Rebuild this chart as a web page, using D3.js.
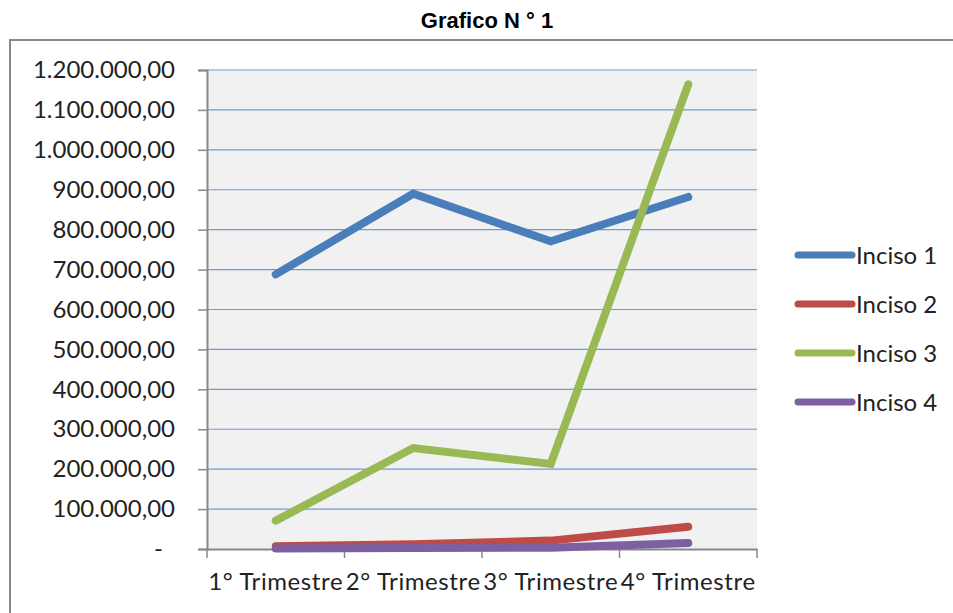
<!DOCTYPE html>
<html>
<head>
<meta charset="utf-8">
<script src="https://cdn.jsdelivr.net/npm/d3@7"></script>
<style>
  body { margin: 0; background: #fff; }
  svg { display: block; }
</style>
</head>
<body>
<svg width="953" height="613"></svg>
<script>
// data
const trimestres = ["1° Trimestre", "2° Trimestre", "3° Trimestre", "4° Trimestre"];
const inciso1 = [688000, 890000, 771000, 882000];
const inciso2 = [7000, 12000, 21000, 56000];
const inciso3 = [71000, 253000, 213000, 1164000];
const inciso4 = [1500, 2500, 3000, 15000];
const seriesNames = ["Inciso 1", "Inciso 2", "Inciso 3", "Inciso 4"];
const seriesColors = ["#4a7ebb", "#be4b48", "#98b954", "#7d60a0"];
const yTicks = [0, 100000, 200000, 300000, 400000, 500000, 600000, 700000, 800000, 900000, 1000000, 1100000, 1200000];

const series = [inciso1, inciso2, inciso3, inciso4].map((vals, i) => ({
    name: seriesNames[i], color: seriesColors[i], values: vals
}));

const svg = d3.select("svg");
const font = "Lato, 'Open Sans', sans-serif";

// outer frame
svg.append("rect")
    .attr("x", 10).attr("y", 40)
    .attr("width", 980).attr("height", 620)
    .attr("fill", "none")
    .attr("stroke", "#888")
    .attr("stroke-width", 2);

// title
svg.append("text")
    .attr("x", 487).attr("y", 28)
    .attr("text-anchor", "middle")
    .attr("font-family", "Arial, 'Liberation Sans', sans-serif")
    .attr("font-weight", "bold")
    .attr("font-size", "22px")
    .text("Grafico N ° 1");

const plotLeft = 207, plotRight = 757, plotTop = 70, plotBottom = 549;

const x = d3.scaleBand().domain(trimestres).range([plotLeft, plotRight]);
const y = d3.scaleLinear().domain([0, 1200000]).range([plotBottom, plotTop]);

// plot background
svg.append("rect")
    .attr("x", plotLeft).attr("y", plotTop)
    .attr("width", plotRight - plotLeft).attr("height", plotBottom - plotTop)
    .attr("fill", "#f1f1f1");

// gridlines
svg.append("g")
    .selectAll("line")
    .data(yTicks.filter(d => d > 0))
    .enter().append("line")
    .attr("x1", plotLeft).attr("x2", plotRight)
    .attr("y1", d => y(d)).attr("y2", d => y(d))
    .attr("stroke", "#6f9bd6")
    .attr("stroke-width", 1.2);

// y axis
const fmt = d3.formatLocale({decimal: ",", thousands: ".", grouping: [3], currency: ["", ""]}).format(",.2f");
const yAxis = svg.append("g")
    .attr("transform", "translate(" + plotLeft + ",0)")
    .call(d3.axisLeft(y).tickValues(yTicks).tickSize(9).tickPadding(23)
        .tickFormat(d => d === 0 ? "-" : fmt(d)));
yAxis.select(".domain").attr("stroke", "#888").attr("stroke-width", 2);
yAxis.selectAll(".tick line").attr("stroke", "#888").attr("stroke-width", 1.5);
yAxis.selectAll(".tick text")
    .attr("font-family", font)
    .attr("font-size", "24px")
    .attr("fill", "#222")
    .filter(d => d === 0).attr("dx", "-12");

// x axis
const xAxis = svg.append("g")
    .attr("transform", "translate(0," + plotBottom + ")")
    .call(d3.axisBottom(x).tickSize(0).tickPadding(24));
xAxis.select(".domain").attr("stroke", "#888").attr("stroke-width", 2);
xAxis.selectAll(".tick text")
    .attr("font-family", font)
    .attr("font-size", "24px")
    .attr("letter-spacing", "0.6px")
    .attr("fill", "#222");
xAxis.append("g").selectAll("line")
    .data(trimestres.map(t => x(t)).concat([plotRight]))
    .enter().append("line")
    .attr("x1", d => d).attr("x2", d => d)
    .attr("y1", 0).attr("y2", 9)
    .attr("stroke", "#888").attr("stroke-width", 1.5);

// lines
const line = d3.line()
    .x((d, i) => x(trimestres[i]) + x.bandwidth() / 2)
    .y(d => y(d));

svg.append("g").selectAll("path")
    .data(series)
    .enter().append("path")
    .attr("d", d => line(d.values))
    .attr("fill", "none")
    .attr("stroke", d => d.color)
    .attr("stroke-width", 8)
    .attr("stroke-linecap", "round")
    .attr("stroke-linejoin", "miter");

// legend
const legend = svg.append("g").selectAll("g")
    .data(series)
    .enter().append("g")
    .attr("transform", (d, i) => "translate(0," + (255 + i * 49) + ")");
legend.append("line")
    .attr("x1", 798).attr("x2", 852)
    .attr("stroke", d => d.color)
    .attr("stroke-width", 7)
    .attr("stroke-linecap", "round");
legend.append("text")
    .attr("x", 856).attr("y", 8.5)
    .attr("font-family", font)
    .attr("font-size", "24px")
    .attr("fill", "#222")
    .text(d => d.name);
</script>
</body>
</html>
